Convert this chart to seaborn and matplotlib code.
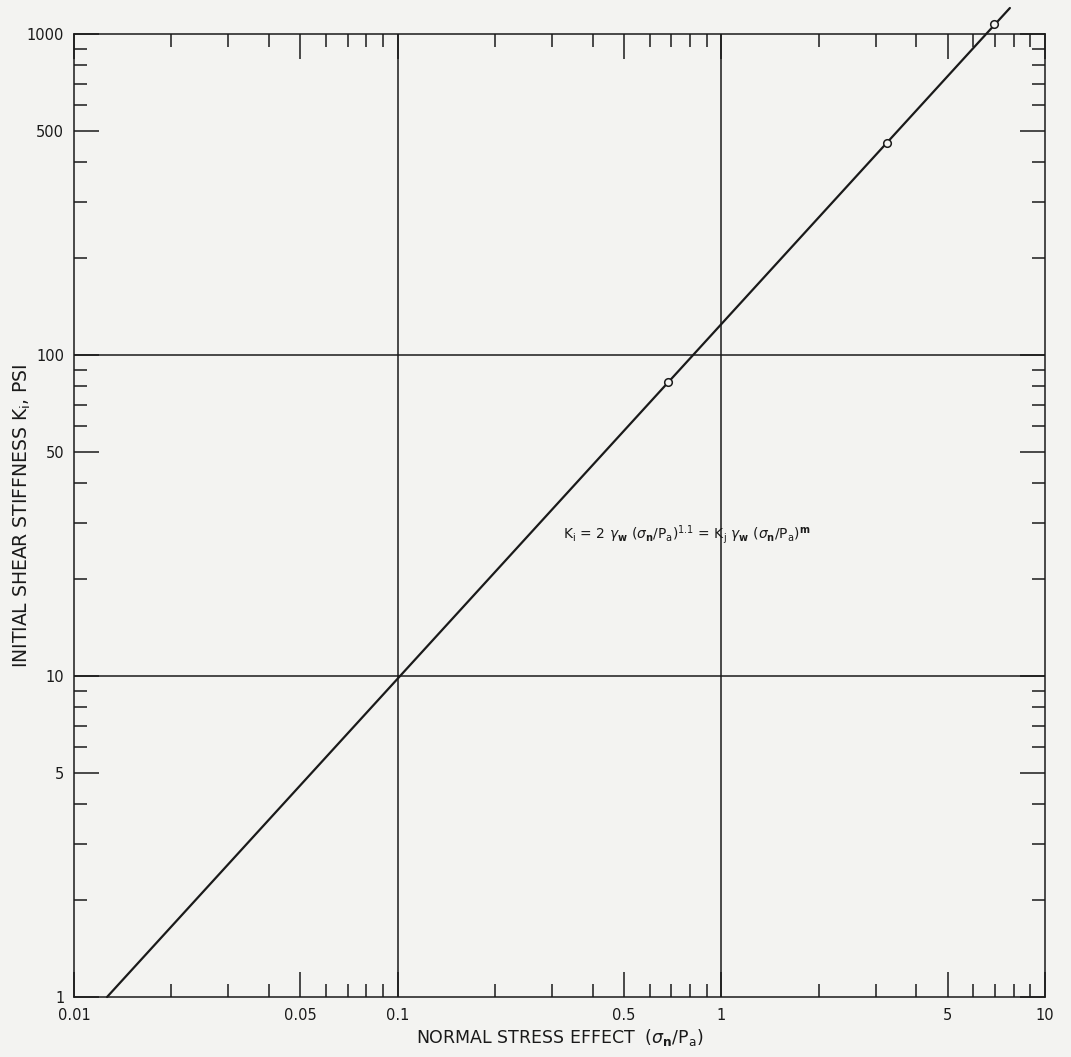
import matplotlib
matplotlib.use("Agg")
import matplotlib.pyplot as plt
import matplotlib.ticker as mticker
import seaborn as sns
import pandas as pd

# ---- data ----
line_x = [0.01265, 7.79]          # fitted line K = 2*gw*(sn/Pa)^1.1 (end points)
line_y = [1.0, 1205.0]
point_x = [0.684, 3.25, 6.95]     # measured points
point_y = [82.4, 457.0, 1074.0]
grid_x = [0.1, 1]
grid_y = [10, 100]
xtick_vals = [0.01, 0.05, 0.1, 0.5, 1, 5, 10]
xtick_labels = ["0.01", "0.05", "0.1", "0.5", "1", "5", "10"]
ytick_vals = [1, 5, 10, 50, 100, 500, 1000]
ytick_labels = ["1", "5", "10", "50", "100", "500", "1000"]

sns.set_style("white")
plt.rcParams['font.family'] = ['DejaVu Sans']
plt.rcParams['mathtext.fontset'] = 'dejavusans'

bg = '#f3f3f1'
ink = '#1a1a1a'
fig = plt.figure(figsize=(10.71, 10.57), dpi=100, facecolor=bg)
ax = fig.add_axes([74/1071, 60/1057, 971/1071, 963/1057])
ax.set_facecolor(bg)
ax.set_xscale('log')
ax.set_yscale('log')

line_df = pd.DataFrame({'x': line_x, 'y': line_y})
pts_df = pd.DataFrame({'x': point_x, 'y': point_y})

for gx in grid_x:
    ax.axvline(gx, color=ink, lw=1.1, zorder=1)
for gy in grid_y:
    ax.axhline(gy, color=ink, lw=1.1, zorder=1)

sns.lineplot(data=line_df, x='x', y='y', ax=ax, color=ink, lw=1.6,
             sort=False, estimator=None, zorder=3)
for ln in ax.get_lines()[-1:]:
    ln.set_clip_on(False)
sns.scatterplot(data=pts_df, x='x', y='y', ax=ax, s=30, marker='o',
                facecolor=bg, edgecolor=ink, linewidth=1.1, zorder=4)
for c in ax.collections:
    c.set_clip_on(False)

ax.set_xlim(0.01, 10)
ax.set_ylim(1, 1000)

ax.xaxis.set_major_locator(mticker.FixedLocator(xtick_vals))
ax.xaxis.set_major_formatter(mticker.FixedFormatter(xtick_labels))
ax.yaxis.set_major_locator(mticker.FixedLocator(ytick_vals))
ax.yaxis.set_major_formatter(mticker.FixedFormatter(ytick_labels))
ax.xaxis.set_minor_locator(mticker.LogLocator(base=10, subs=[2, 3, 4, 6, 7, 8, 9]))
ax.yaxis.set_minor_locator(mticker.LogLocator(base=10, subs=[2, 3, 4, 6, 7, 8, 9]))
ax.xaxis.set_minor_formatter(mticker.NullFormatter())
ax.yaxis.set_minor_formatter(mticker.NullFormatter())

ax.tick_params(which='both', direction='in', top=True, right=True,
               bottom=True, left=True, color=ink, width=1.1)
ax.tick_params(which='major', length=18, labelsize=10.5, labelcolor=ink)
ax.tick_params(axis='x', which='major', pad=8)
ax.tick_params(axis='y', which='major', pad=7)
ax.tick_params(which='minor', length=9.5)

for sp in ax.spines.values():
    sp.set_color(ink)
    sp.set_linewidth(1.1)
    sp.set_visible(True)

ax.set_xlabel(r'NORMAL STRESS EFFECT  $(\sigma_\mathbf{n}/\mathrm{P_a})$',
              fontsize=12.5, color=ink)
ax.xaxis.set_label_coords(0.5, -0.031)
ax.set_ylabel(r'INITIAL SHEAR STIFFNESS $\mathrm{K_i}$, PSI',
              fontsize=13.5, color=ink)
ax.yaxis.set_label_coords(-0.042, 0.5)

ax.text(0.324, 27.5,
        r'$\mathrm{K_i}$ = 2 $\gamma_\mathbf{w}$ $(\sigma_\mathbf{n}/\mathrm{P_a})^{1.1}$'
        r' = $\mathrm{K_j}$ $\gamma_\mathbf{w}$ $(\sigma_\mathbf{n}/\mathrm{P_a})^\mathbf{m}$',
        fontsize=10, color=ink, va='center', ha='left', zorder=5)

fig.savefig('out.png', dpi=100, facecolor=bg)
